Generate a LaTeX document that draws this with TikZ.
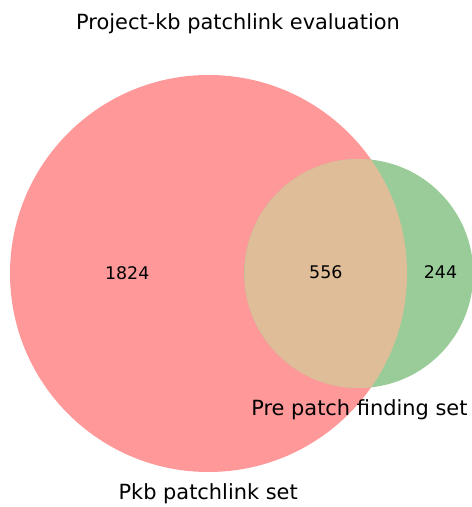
\documentclass[tikz,border=0pt]{standalone}
\usepackage{fontspec}
\setmainfont{DejaVu Sans}
\definecolor{setA}{HTML}{FF9999}
\definecolor{setB}{HTML}{99CC99}
\definecolor{setAB}{HTML}{E0BD99}
\begin{document}
\begin{tikzpicture}[x=1pt,y=1pt,
  lbl/.style={inner sep=0pt,anchor=base,font=\fontsize{20.9}{25}\selectfont},
  num/.style={inner sep=0pt,anchor=base,font=\fontsize{17.4}{21}\selectfont}]
\useasboundingbox (0,0) rectangle (472,507);
\coordinate (cA) at (208.5,233.5);
\coordinate (cB) at (358.8,233.5);
\fill[setA] (cA) circle[radius=198.5];
\fill[setB] (cB) circle[radius=114.5];
\begin{scope}
  \clip (cA) circle[radius=198.5];
  \fill[setAB] (cB) circle[radius=114.5];
\end{scope}
\node[lbl] (title) at (238,477.7) {Project-kb patchlink evaluation};
\node[num] (nA) at (127.2,227.8) {1824};
\node[num] (nAB) at (325.8,228) {556};
\node[num] (nB) at (440.5,228) {244};
\node[lbl] (labA) at (208.2,7.7) {Pkb patchlink set};
\node[lbl] (labB) at (359.4,91) {Pre patch finding set};
\end{tikzpicture}
\end{document}
